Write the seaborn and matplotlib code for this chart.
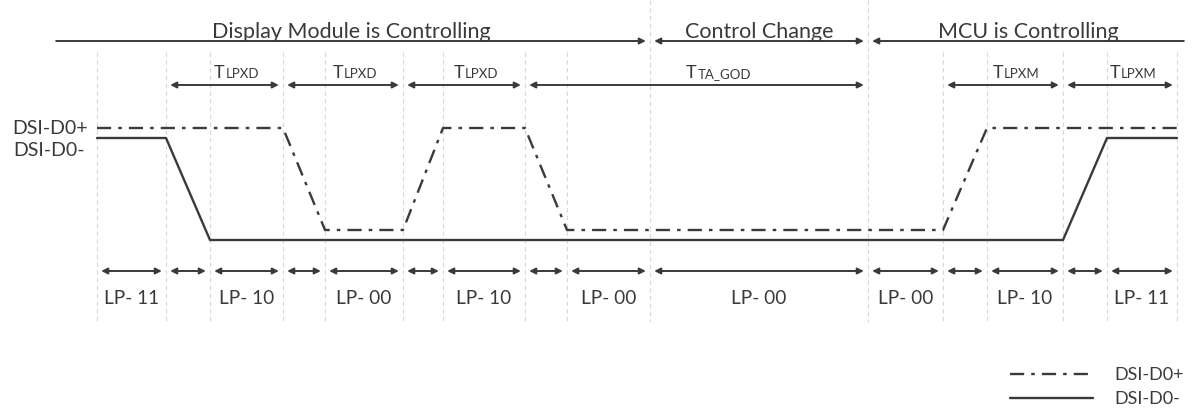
import numpy as np
import pandas as pd
import seaborn as sns
import matplotlib.pyplot as plt

# timing of the LP states (horizontal units follow the drawing width)
edges = [97, 166, 210, 283, 325, 403, 443, 525, 567, 650, 868, 943, 987, 1063, 1107, 1177]
state_labels = ['LP- 11', '', 'LP- 10', '', 'LP- 00', '', 'LP- 10', '', 'LP- 00',
                'LP- 00', 'LP- 00', '', 'LP- 10', '', 'LP- 11']

# DSI-D0+ (dash-dot) and DSI-D0- (solid) logic levels
dp_t = [97, 283, 325, 403, 443, 525, 567, 943, 987, 1177]
dp_lvl = [1, 1, 0, 0, 1, 1, 0, 0, 1, 1]
dn_t = [97, 166, 210, 1063, 1107, 1177]
dn_lvl = [1, 1, 0, 0, 1, 1]

# timing parameters
param_start = [166, 283, 403, 525, 943, 1063]
param_end = [283, 403, 525, 868, 1063, 1177]
param_sub = ['LPXD', 'LPXD', 'LPXD', 'TA_GOD', 'LPXM', 'LPXM']

# who drives the bus
phase_start = [52, 650, 868]
phase_end = [650, 868, 1188]
phase_names = ['Display Module is Controlling', 'Control Change', 'MCU is Controlling']

ink = '#3a3a3a'
sns.set_style('white')
plt.rcParams['font.family'] = ['Lato', 'DejaVu Sans']

fig = plt.figure(figsize=(12, 4.09), dpi=100)
ax = fig.add_axes([0, 0, 1, 1])

# level -> vertical position on the drawing
def dp_y(v):
    return 230 - 102 * np.array(v)

def dn_y(v):
    return 240 - 102 * np.array(v)

# light vertical guide lines
for e in edges:
    top = 0 if e in (650, 868) else 52
    ax.plot([e, e], [top, 322], color='#d8d8d8', lw=0.8, ls=(0, (4, 3)), zorder=0)

df_p = pd.DataFrame({'t': dp_t, 'y': dp_y(dp_lvl)})
df_n = pd.DataFrame({'t': dn_t, 'y': dn_y(dn_lvl)})
sns.lineplot(data=df_p, x='t', y='y', ax=ax, sort=False, estimator=None, color=ink,
             lw=1.7, linestyle=(0, (6, 3, 1.5, 3)), label='DSI-D0+')
sns.lineplot(data=df_n, x='t', y='y', ax=ax, sort=False, estimator=None, color=ink,
             lw=1.7, label='DSI-D0-')
ax.set_xlim(0, 1200)
ax.set_ylim(409, 0)
ax.axis('off')

ax.text(50, 128, 'DSI-D0+', ha='center', va='center', fontsize=14, color=ink)
ax.text(49, 151, 'DSI-D0-', ha='center', va='center', fontsize=14, color=ink)

def arrow(x0, x1, y, style):
    ax.annotate('', xy=(x1, y), xytext=(x0, y),
                arrowprops=dict(arrowstyle=style, color=ink, lw=1.4, mutation_scale=9,
                                shrinkA=3, shrinkB=3))

# top row: phases
styles = ['-|>', '<|-|>', '<|-']
for s, e, name, st in zip(phase_start, phase_end, phase_names, styles):
    arrow(s, e, 41, st)
    ax.text((s + e) / 2, 38, name, ha='center', va='baseline', fontsize=15.5, color=ink)

# second row: timing parameters
for s, e, sub in zip(param_start, param_end, param_sub):
    arrow(s, e, 85, '<|-|>')
    c = (s + e) / 2
    ax.text(c, 78, 'T', ha='right', va='baseline', fontsize=13, color=ink)
    ax.text(c + 1, 78, sub, ha='left', va='baseline', fontsize=9.5, color=ink)

# bottom row: LP states
for i in range(len(edges) - 1):
    arrow(edges[i], edges[i + 1], 271, '<|-|>')
    if state_labels[i]:
        ax.text((edges[i] + edges[i + 1]) / 2, 299, state_labels[i], ha='center',
                va='center', fontsize=13.7, color=ink)

leg = ax.legend(loc='lower right', bbox_to_anchor=(1.0, -0.035), frameon=False,
                handlelength=4.6, fontsize=13, labelspacing=0.45, handletextpad=1.2)
for t in leg.get_texts():
    t.set_color(ink)

fig.savefig('out.png', dpi=100)
